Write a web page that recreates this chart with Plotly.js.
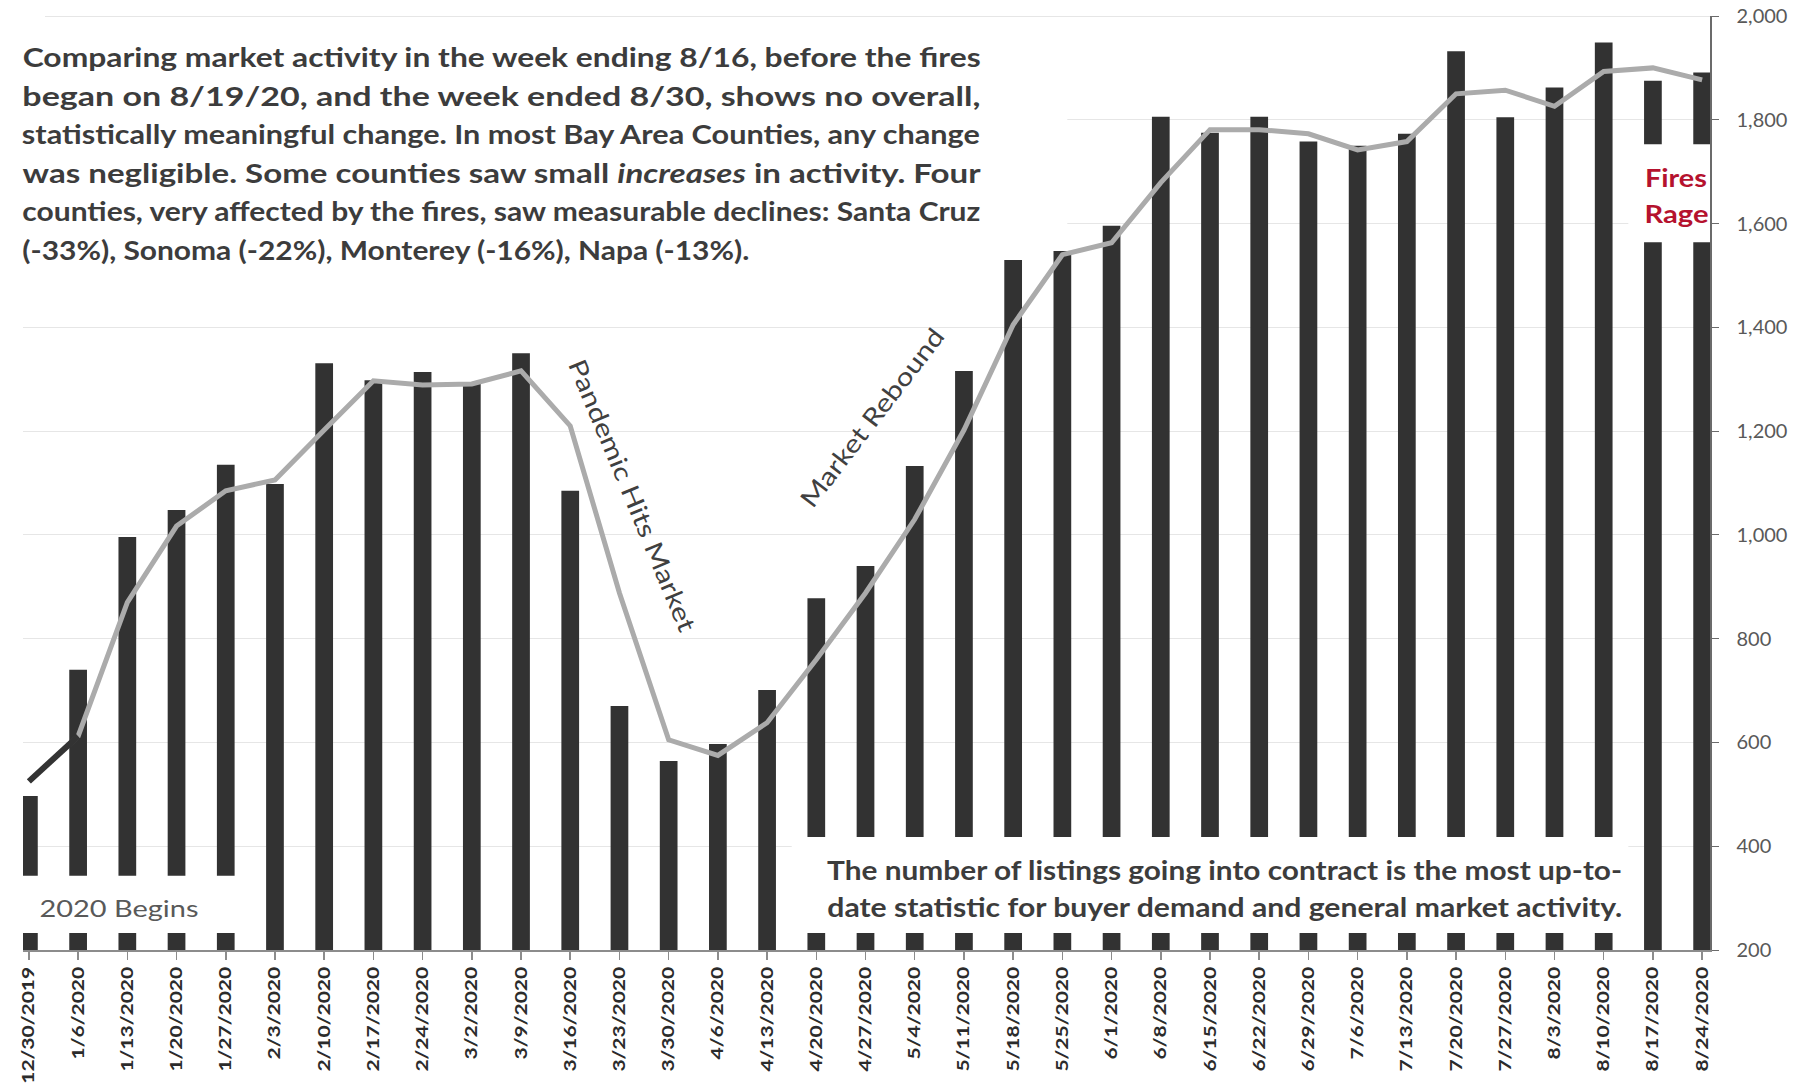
<!DOCTYPE html>
<html><head><meta charset="utf-8">
<script src="https://cdn.plot.ly/plotly-3.0.1.min.js"></script>
<style>html,body{margin:0;padding:0;background:#fff}</style>
</head><body><div id="chart" style="width:1806px;height:1083px"></div>
<script>
// ---- data ----
const weeks = ["12/30/2019","1/6/2020","1/13/2020","1/20/2020","1/27/2020","2/3/2020","2/10/2020","2/17/2020","2/24/2020","3/2/2020","3/9/2020","3/16/2020","3/23/2020","3/30/2020","4/6/2020","4/13/2020","4/20/2020","4/27/2020","5/4/2020","5/11/2020","5/18/2020","5/25/2020","6/1/2020","6/8/2020","6/15/2020","6/22/2020","6/29/2020","7/6/2020","7/13/2020","7/20/2020","7/27/2020","8/3/2020","8/10/2020","8/17/2020","8/24/2020"];
const listingsToContract = [497,740,996,1048,1135,1098,1331,1298,1314,1292,1350,1085,670,564,597,701,878,940,1133,1316,1530,1547,1596,1806,1775,1806,1758,1750,1773,1932,1805,1862,1949,1875,1891];
const trendAverage = [525,612,870,1017,1085,1106,1202,1297,1289,1291,1316,1210,888,605,575,638,760,888,1030,1202,1405,1540,1563,1679,1781,1781,1773,1742,1758,1850,1857,1826,1893,1900,1877];
const yTicks = [200,400,600,800,1000,1200,1400,1600,1800,2000];
const noteLines = [
  "Comparing market activity in the week ending 8/16, before the fires",
  "began on 8/19/20, and the week ended 8/30, shows no overall,",
  "statistically meaningful change. In most Bay Area Counties, any change",
  "was negligible. Some counties saw small <i>increases</i> in activity. Four",
  "counties, very affected by the fires, saw measurable declines: Santa Cruz",
  "(-33%), Sonoma (-22%), Monterey (-16%), Napa (-13%)."
];
const footLines = [
  "The number of listings going into contract is the most up-to-",
  "date statistic for buyer demand and general market activity."
];
const labelPandemic = "Pandemic Hits Market";
const labelRebound = "Market Rebound";
const labelBegins = "2020 Begins";
const labelFires = ["Fires","Rage"];

// ---- layout geometry (page pixels) ----
const W = 1806, H = 1083;
const M = {l:23, r:96, t:16, b:133};
const plotW = W - M.l - M.r, plotH = H - M.t - M.b;
const px = X => (X - M.l) / plotW;        // page x -> paper x
const py = Y => (H - M.b - Y) / plotH;    // page y -> paper y

const FONT = "Lato, 'Open Sans', sans-serif";

const traces = [
  {type:'bar', x:weeks, y:listingsToContract, marker:{color:'#323232'}},
  {type:'scatter', mode:'lines', x:weeks, y:trendAverage, line:{color:'#ababab', width:5}},
  {type:'scatter', mode:'lines', x:weeks.slice(0,2), y:trendAverage.slice(0,2), line:{color:'#333333', width:6}}
];

// each annotation carries the width (px) it occupies in the reference
const annotations = [], stretchTo = [];
function addNote(opts, width){ annotations.push(Object.assign({showarrow:false, align:'center', xanchor:'center', yanchor:'middle'}, opts)); stretchTo.push(width); }

noteLines.forEach((t,i) => {
  const last = i === noteLines.length - 1;
  const left = 22, width = last ? 727 : 958;
  addNote({text:t, xref:'paper', x:px(left + width/2), yref:'paper', y:py(57 + i*38.6),
    font:{family:FONT, size:26, color:'#3c3c3c', weight:'bold'}}, width);
});
footLines.forEach((t,i) => addNote({text:t, xref:'paper', x:px(827 + 795/2), yref:'paper', y:py(870 + i*37),
  font:{family:FONT, size:26, color:'#3c3c3c', weight:'bold'}}, 795));
addNote({text:labelPandemic, xref:'x', x:12.28, yref:'y', y:1077, textangle:67.4,
  font:{family:FONT, size:25, color:'#404040'}}, 292);
addNote({text:labelRebound, xref:'x', x:17.12, yref:'y', y:1227, textangle:-52.4,
  font:{family:FONT, size:25, color:'#404040'}}, 218);
addNote({text:labelBegins, xref:'paper', x:px(118.5), yref:'paper', y:py(907),
  font:{family:FONT, size:24, color:'#595959'}}, 159);
labelFires.forEach((t,i) => addNote({text:t, xref:'paper', x:px(1676), yref:'paper', y:py(177 + i*36),
  font:{family:FONT, size:25, color:'#b5122e', weight:'bold'}}, i ? 64 : 62));

const shapes = [
  {type:'line', layer:'below', xref:'paper', yref:'y', x0:px(45), x1:1, y0:2000, y1:2000, line:{color:'#dedede', width:1.5}},
  {type:'rect', layer:'between', xref:'x', yref:'y', x0:-0.5, x1:21.1, y0:1560, y1:1975, fillcolor:'#ffffff', line:{width:0}},
  {type:'rect', layer:'above', xref:'x', yref:'y', x0:-0.5, x1:4.5, y0:233, y1:343, fillcolor:'#ffffff', line:{width:0}},
  {type:'rect', layer:'above', xref:'x', yref:'y', x0:15.5, x1:32.5, y0:233, y1:418, fillcolor:'#ffffff', line:{width:0}},
  {type:'rect', layer:'above', xref:'x', yref:'y', x0:32.5, x1:34.6, y0:1564, y1:1753, fillcolor:'#ffffff', line:{width:0}}
];

const layout = {
  width:W, height:H, margin:M,
  paper_bgcolor:'#ffffff', plot_bgcolor:'#ffffff',
  showlegend:false, bargap:0.64,
  font:{family:FONT},
  xaxis:{type:'category', range:[-0.12, 34.16], showgrid:false, zeroline:false,
    showline:true, linecolor:'#8c8c8c', linewidth:2,
    ticks:'outside', ticklen:8, tickcolor:'#8c8c8c', tickwidth:1.5,
    tickangle:-90, tickfont:{family:FONT, size:17, color:'#2b2b2b', weight:'bold'}},
  yaxis:{side:'right', range:[200,2000], tickvals:yTicks, tickformat:',d',
    showgrid:true, gridcolor:'#e6e6e6', gridwidth:1, zeroline:false,
    showline:true, linecolor:'#6b6b6b', linewidth:1.5,
    ticks:'outside', ticklen:7, tickcolor:'#6b6b6b', ticklabelstandoff:14,
    tickfont:{family:FONT, size:20, color:'#595959'}},
  annotations:annotations, shapes:shapes
};

function stretchText(el, len){
  el.setAttribute('textLength', len.toFixed(1));
  el.setAttribute('lengthAdjust', 'spacingAndGlyphs');
}

Plotly.newPlot('chart', traces, layout, {displayModeBar:false, staticPlot:true}).then(gd => {
  // reference text is horizontally stretched: match each annotation's measured width
  const annTexts = gd.querySelectorAll('.annotation-text');
  annTexts.forEach((el, i) => { if (stretchTo[i]) stretchText(el, stretchTo[i]); });
  // x tick labels: same stretch as the reference (first label is 117 px long there)
  const ticks = gd.querySelectorAll('.xtick text');
  if (ticks.length) {
    const f = 117 / ticks[0].getComputedTextLength();
    ticks.forEach(el => stretchText(el, el.getComputedTextLength() * f));
  }
});
</script>
</body></html>
